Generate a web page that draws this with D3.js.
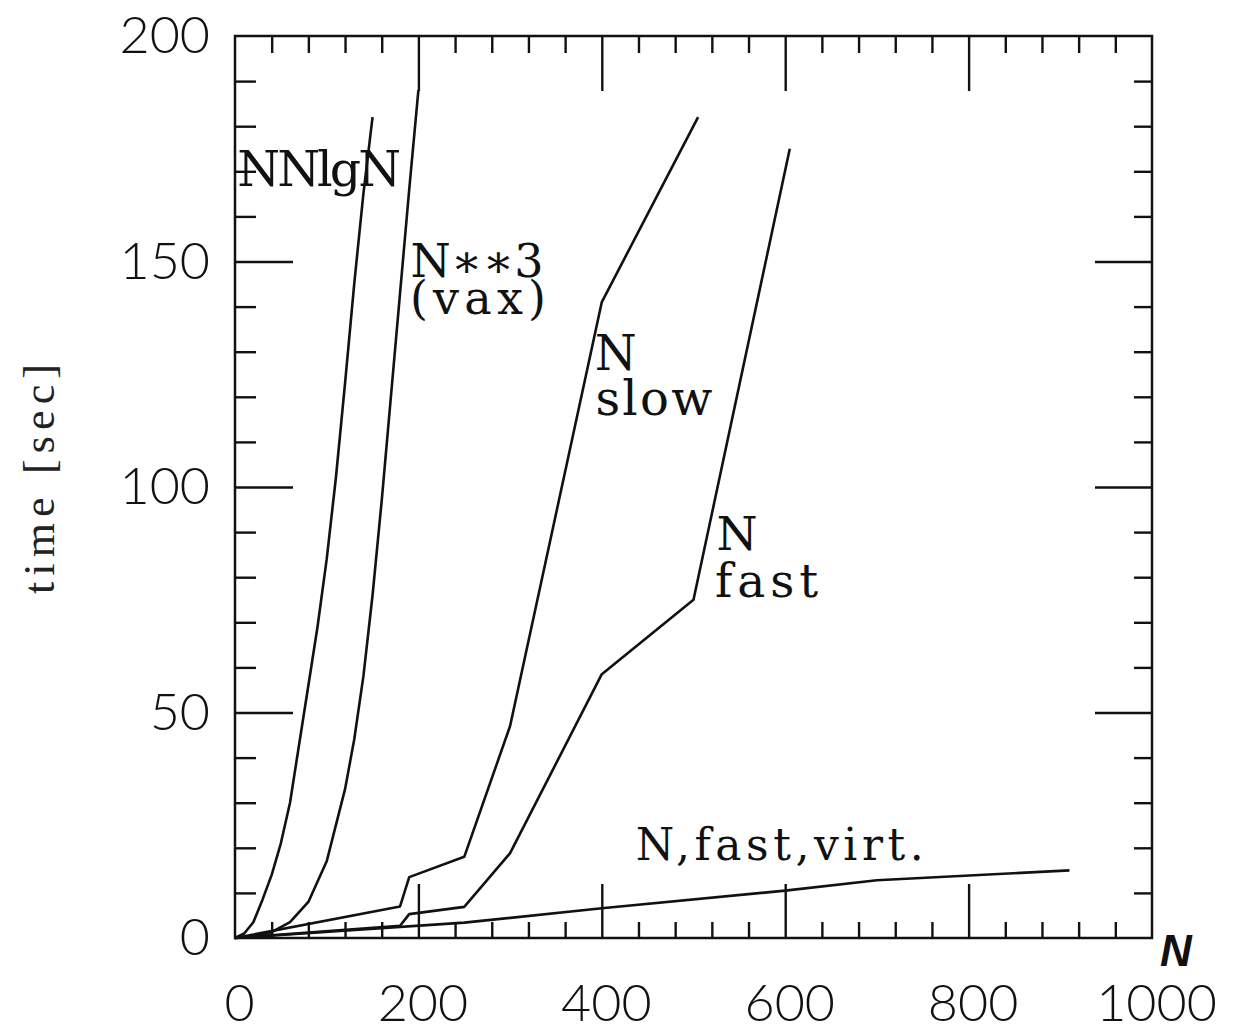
<!DOCTYPE html>
<html lang="en">
<head>
<meta charset="UTF-8">
<title>time vs N</title>
<style>
  body { margin: 0; background: #fff; }
  svg { display: block; }
  .tick-label { font-family: Lato, Roboto, "Liberation Sans", sans-serif; font-weight: 300; font-size: 52px; fill: #111; }
  .series-label { font-family: "DejaVu Serif", serif; fill: #111; }
  .frame { fill: none; stroke: #111; stroke-width: 2.5px; }
  .curve { fill: none; stroke: #111; stroke-width: 2.6px; stroke-linejoin: round; }
  .tk line { stroke: #111; stroke-width: 2.4px; }
</style>
</head>
<body>
<svg width="1238" height="1035"></svg>
<script src="https://d3js.org/d3.v7.min.js"></script>
<script>
// --- data (N, time in sec) ---
const nnlgnN = [0, 10, 20, 30, 40, 50, 60, 70, 80, 90, 100, 110, 120, 130, 140, 150];
const nnlgnT = [0, 1, 3.5, 8.5, 14, 21, 30, 43, 56, 69, 84, 102, 123, 145, 165, 182];

const cubeN = [0, 20, 40, 60, 80, 100, 120, 130, 140, 150, 160, 170, 180, 190, 200];
const cubeT = [0, 0.3, 1.3, 3.5, 8, 17, 33, 44, 58, 76, 97, 120, 143, 166, 188];

const slowN = [0, 180, 190, 250, 300, 400, 505];
const slowT = [0, 7, 13.5, 18, 47, 141, 182];

const fastN = [0, 180, 190, 250, 300, 400, 500, 605];
const fastT = [0, 2.7, 5.3, 6.9, 18.8, 58.5, 75, 175];

const virtN = [0, 250, 400, 600, 700, 910];
const virtT = [0, 3.4, 6.6, 10.5, 12.8, 15];

const xTicks = [0, 200, 400, 600, 800, 1000];
const yTicks = [0, 50, 100, 150, 200];

// curve labels, one text each; every line: [text, N, time, width]
const labels = [
  { size: 49, lines: [["NNlgN", 2.4, 166.7, 164]] },
  { size: 46, lines: [["N\u2217\u22173", 191.4, 146.6, 133], ["(vax)", 190.8, 138.4, 136]] },
  { size: 48, lines: [["N", 392.4, 125.9, 0], ["slow", 393, 116, 117]] },
  { size: 47, lines: [["N", 525, 86, 0], ["fast", 523.5, 75.6, 103]] },
  { size: 44, lines: [["N,fast,virt.", 437, 17.3, 288]] }
];

const svg = d3.select("svg");
svg.append("rect").attr("width", 1238).attr("height", 1035).attr("fill", "#fff");

const x = d3.scaleLinear().domain([0, 1000]).range([235, 1152]);
const y = d3.scaleLinear().domain([0, 200]).range([938, 36]);

// frame
svg.append("rect").attr("class", "frame")
  .attr("x", x(0)).attr("y", y(200))
  .attr("width", x(1000) - x(0)).attr("height", y(0) - y(200));

const minorX = d3.range(40, 1000, 40).filter(v => v % 200 !== 0);
const majorX = [200, 400, 600, 800];
const minorY = d3.range(10, 200, 10).filter(v => v % 50 !== 0);
const majorY = [50, 100, 150];

function ticks(axis, values, size, tx, ty) {
  const g = svg.append("g").attr("class", "tk")
    .attr("transform", `translate(${tx},${ty})`)
    .call(axis.tickValues(values).tickSize(size).tickFormat(""));
  g.select(".domain").remove();
}

ticks(d3.axisBottom(x), minorX, -16, 0, y(0));
ticks(d3.axisBottom(x), majorX, -54, 0, y(0));
ticks(d3.axisTop(x), minorX, -17, 0, y(200));
ticks(d3.axisTop(x), majorX, -55, 0, y(200));
ticks(d3.axisLeft(y), minorY, -21, x(0), 0);
ticks(d3.axisLeft(y), majorY, -58, x(0), 0);
ticks(d3.axisRight(y), minorY, -18, x(1000), 0);
ticks(d3.axisRight(y), majorY, -57, x(1000), 0);

// tick labels
const xl = svg.append("g").attr("transform", `translate(4,${y(0)})`)
  .call(d3.axisBottom(x).tickValues(xTicks).tickFormat(d3.format("d")).tickSize(0).tickPadding(46));
xl.select(".domain").remove();

const yl = svg.append("g").attr("transform", `translate(${x(0)},0)`)
  .call(d3.axisLeft(y).tickValues(yTicks).tickFormat(d3.format("d")).tickSize(0).tickPadding(25));
yl.select(".domain").remove();

[xl, yl].forEach(g => {
  g.attr("font-size", null).attr("font-family", null);
  g.selectAll("text").attr("class", "tick-label");
});

// axis titles
svg.append("text")
  .attr("transform", "translate(54,479) rotate(-90)")
  .attr("text-anchor", "middle")
  .attr("font-family", "'Liberation Serif', serif")
  .attr("font-size", 44)
  .attr("fill", "#222")
  .attr("textLength", 230)
  .attr("lengthAdjust", "spacing")
  .text("time [sec]");

svg.append("text")
  .attr("x", 1160).attr("y", 966)
  .attr("font-family", "'Liberation Sans', sans-serif")
  .attr("font-weight", "bold")
  .attr("font-style", "italic")
  .attr("font-size", 44)
  .attr("fill", "#111")
  .text("N");

// curves
const line = d3.line().x(d => x(d[0])).y(d => y(d[1]));
const series = [
  [nnlgnN, nnlgnT],
  [cubeN, cubeT],
  [slowN, slowT],
  [fastN, fastT],
  [virtN, virtT]
];
svg.append("g").selectAll("path")
  .data(series.map(([n, t]) => n.map((v, i) => [v, t[i]])))
  .join("path")
  .attr("class", "curve")
  .attr("d", line);

// curve labels
svg.append("g").selectAll("text")
  .data(labels)
  .join("text")
  .attr("class", "series-label")
  .attr("font-size", d => d.size)
  .selectAll("tspan")
  .data(d => d.lines)
  .join("tspan")
  .attr("x", d => x(d[1]))
  .attr("y", d => y(d[2]))
  .each(function(d) {
    if (d[3] > 0) d3.select(this).attr("textLength", d[3]).attr("lengthAdjust", "spacing");
  })
  .text(d => d[0]);
</script>
</body>
</html>
